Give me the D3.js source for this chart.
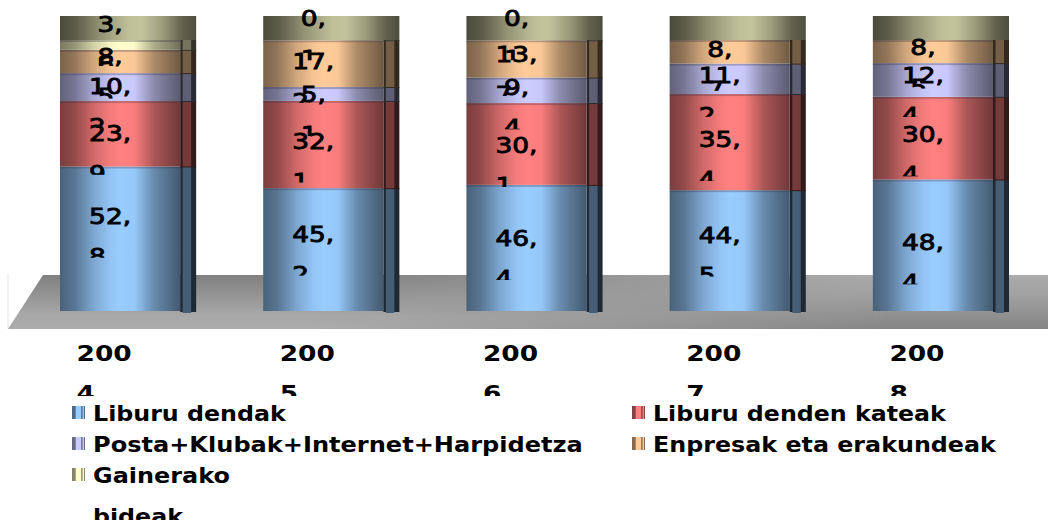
<!DOCTYPE html>
<html><head><meta charset="utf-8">
<script src="https://cdn.jsdelivr.net/npm/d3@7"></script>
<style>html,body{margin:0;padding:0;background:#fff;overflow:hidden}svg{display:block}</style>
</head><body><div id="c"></div>
<script>
const years = ["2004","2005","2006","2007","2008"];
const seriesNames = ["Liburu dendak","Liburu denden kateak","Posta+Klubak+Internet+Harpidetza","Enpresak eta erakundeak","Gainerako bideak"];
const libuDendak = [52.8,45.2,46.4,44.5,48.4];
const kateak = [23.9,32.1,30.1,35.4,30.4];
const posta = [10.2,5.1,9.4,11.2,12.4];
const enpresak = [8.5,17.2,13.7,8.7,8.5];
const gainerako = [3.6,0.1,0.1,0,0];
const seriesValues = [libuDendak,kateak,posta,enpresak,gainerako];
const peakColors = ["#99ccff","#ff8080","#ccccff","#ffcc99","#ffffcc"];

// layout only
const W=1048,H=520, plotTop=40, plotBottom=311;
const nudge = [[-23,-16,-10,-16,-3],[-1,-4,1,-3,-4],[-1,0,-3,-4,-5],[-5,-3,-5,-3,-5],[-21,-22,-22,0,0]];
const legendWidths = {"Liburu dendak":193,"Liburu denden kateak":293,"Posta+Klubak+Internet+Harpidetza":490,"Enpresak eta erakundeak":343,"Gainerako":137,"bideak":90};

const svg=d3.select("#c").append("svg").attr("width",W).attr("height",H).style("font-family","'DejaVu Sans'");
const defs=svg.append("defs");

const x=d3.scaleBand().domain(years).range([60,1009]).paddingInner(0.33).paddingOuter(0);
const y=d3.scaleLinear().domain([0,1]).range([plotBottom,plotTop]);
const sideW=16, frontW=x.bandwidth()-sideW;

const table=years.map((yr,i)=>{const o={year:yr};seriesNames.forEach((s,k)=>o[s]=seriesValues[k][i]);return o;});
const stacked=d3.stack().keys(seriesNames).offset(d3.stackOffsetExpand)(table);

function shade(c,f){const r=d3.rgb(c);return d3.rgb(r.r*f,r.g*f,r.b*f).formatHex();}
function grad(id,c,stops){
  const g=defs.append("linearGradient").attr("id",id);
  stops.forEach(([o,f])=>g.append("stop").attr("offset",o).attr("stop-color",shade(c,f)));
}
const frontStops=[[0,.48],[.12,.58],[.28,.82],[.42,.96],[.5,1],[.62,.98],[.78,.68],[1,.44]];
const swatchStops=[[0,.5],[.26,.55],[.3,1],[.68,1],[.72,.62],[.8,.62],[.83,.98],[.92,.98],[.95,.55],[1,.5]];
peakColors.forEach((c,k)=>{grad("f"+k,c,frontStops);grad("s"+k,c,swatchStops);});
grad("cap","#c4c49c",[[0,.38],[.12,.48],[.3,.75],[.5,.97],[.6,1],[.75,.8],[.9,.5],[1,.4]]);

// floor
const fl=defs.append("linearGradient").attr("id","floorL").attr("x1",0).attr("x2",0).attr("y1",0).attr("y2",1);
fl.append("stop").attr("offset",0).attr("stop-color","#808080");
fl.append("stop").attr("offset",.75).attr("stop-color","#a8a8a8");
fl.append("stop").attr("offset",1).attr("stop-color","#acacac");
const fr=defs.append("linearGradient").attr("id","floorR").attr("x1",0).attr("x2",0).attr("y1",0).attr("y2",1);
fr.append("stop").attr("offset",0).attr("stop-color","#acacac");
fr.append("stop").attr("offset",.4).attr("stop-color","#a0a0a0");
fr.append("stop").attr("offset",1).attr("stop-color","#858585");
const fm=defs.append("linearGradient").attr("id","floorFade");
fm.append("stop").attr("offset",.3).attr("stop-color","#000");
fm.append("stop").attr("offset",.85).attr("stop-color","#fff");
defs.append("mask").attr("id","floorMask").attr("maskUnits","userSpaceOnUse").attr("x",0).attr("y",0).attr("width",W).attr("height",H)
  .append("rect").attr("x",0).attr("y",0).attr("width",W).attr("height",H).attr("fill","url(#floorFade)");
const floorPts="8,329 1048,329 1048,275 43,275";
svg.append("line").attr("x1",8).attr("x2",8).attr("y1",274).attr("y2",329).attr("stroke","#e4e4e4");
svg.append("polygon").attr("points",floorPts).attr("fill","url(#floorL)");
svg.append("polygon").attr("points",floorPts).attr("fill","url(#floorR)").attr("mask","url(#floorMask)");

// cap strip
svg.append("g").selectAll("rect").data(years).join("rect")
  .attr("x",d=>x(d)).attr("y",16).attr("width",x.bandwidth()).attr("height",plotTop-16).attr("fill","url(#cap)");

// bars
stacked.forEach((s,k)=>{
  const c=peakColors[k];
  const g=svg.append("g");
  s.forEach((d,i)=>{
    const yr=years[i], X=x(yr), y0=y(d[0]), y1=y(d[1]);
    if(y0-y1<=0) return;
    const h=y0-y1;
    g.append("rect").attr("x",X+frontW).attr("y",y1).attr("width",sideW).attr("height",h+1).attr("fill",shade(c,.2));
    g.append("rect").attr("x",X+frontW+2.5).attr("y",y1).attr("width",8.5).attr("height",h+(k==0?2:0)).attr("fill",shade(c,.46));
    g.append("rect").attr("x",X).attr("y",y1).attr("width",frontW).attr("height",h).attr("fill",`url(#f${k})`);
    g.append("rect").attr("x",X).attr("y",y1).attr("width",frontW).attr("height",Math.min(2,h)).attr("fill","#334").attr("opacity",.3);
  });
});

// clipped two-line label
let clipN=0;
function twoLine(parent,cx,cy,first,second,opts){
  const id="lc"+(clipN++);
  defs.append("clipPath").attr("id",id).append("rect").attr("x",-80).attr("y",-30).attr("width",160).attr("height",30+opts.clipBelow);
  const g=parent.append("g").attr("transform",`translate(${cx},${cy})`).attr("clip-path",`url(#${id})`);
  const inner=g.append("g").attr("transform",`scale(${opts.sx},1)`);
  const t=inner.append("text").text(first).attr("y",8).attr("font-size",opts.fs).attr("text-anchor","middle")
    .attr("font-weight",opts.fw).attr("fill","#000").attr("stroke","#000").attr("stroke-width",opts.sw);
  const bb=t.node().getComputedTextLength();
  inner.append("text").text(second).attr("x",-bb/2).attr("y",48).attr("font-size",opts.fs)
    .attr("font-weight",opts.fw).attr("fill","#000").attr("stroke","#000").attr("stroke-width",opts.sw);
}
const lab=svg.append("g");
const fmtParts=v=>{const p=d3.format(".1f")(v).split(".");return [p[0]+",",p[1]];};
stacked.forEach((s,k)=>{
  s.forEach((d,i)=>{
    const v=seriesValues[k][i];
    if(!v) return;
    const [a,b]=fmtParts(v);
    twoLine(lab,x(years[i])+frontW/2-10,(y(d[0])+y(d[1]))/2+nudge[k][i],a,b,{fs:22,fw:"normal",sw:.9,sx:1.2,clipBelow:42});
  });
});

// axis labels
const ax=svg.append("g");
years.forEach(yr=>{
  const p=[yr.slice(0,3),yr.slice(3)];
  twoLine(ax,x(yr)+frontW/2-16,353,p[0],p[1],{fs:22,fw:"bold",sw:0,sx:1.2,clipBelow:43});
});

// legend
const legendPos=[[72,413],[632,413],[72,444],[632,444],[72,475]];
const lg=svg.append("g");
seriesNames.forEach((n,k)=>{
  const [lx,ly]=legendPos[k];
  lg.append("rect").attr("x",lx).attr("y",ly-7).attr("width",13).attr("height",13).attr("fill",`url(#s${k})`);
  const lines=k===4?["Gainerako","bideak"]:[n];
  lines.forEach((t,j)=>{
    const tx=lg.append("text").text(t).attr("font-size",22).attr("font-weight","bold").attr("fill","#000");
    const sx=legendWidths[t]/tx.node().getComputedTextLength();
    tx.attr("transform",`translate(${lx+21},${ly+8+j*41}) scale(${sx},1)`);
  });
});
</script></body></html>
